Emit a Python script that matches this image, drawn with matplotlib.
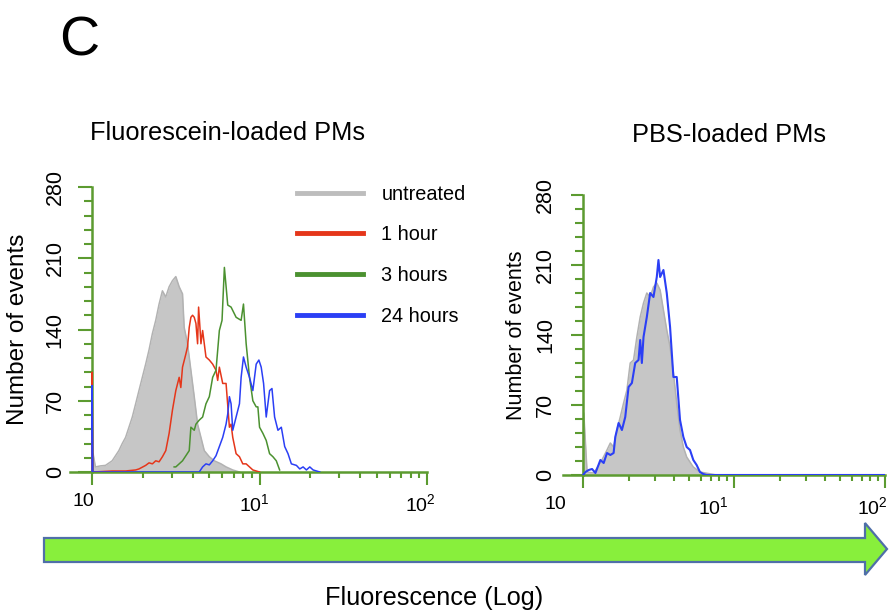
import matplotlib
matplotlib.use('Agg')
import matplotlib.pyplot as plt
import matplotlib.transforms as mtransforms
from matplotlib.lines import Line2D
from matplotlib.patches import Polygon

plt.rcParams['font.family'] = ['Liberation Sans', 'DejaVu Sans']
plt.rcParams['mathtext.fontset'] = 'custom'
plt.rcParams['mathtext.rm'] = 'Liberation Sans'
plt.rcParams['mathtext.it'] = 'Liberation Sans:italic'
plt.rcParams['mathtext.bf'] = 'Liberation Sans:bold'

# ---- data (fluorescence, number of events) ----
# left panel: Fluorescein-loaded PMs
untreated_L_x = [1.0, 1.014, 1.047, 1.122, 1.202, 1.318, 1.445, 1.514, 1.585, 1.660, 1.738,
                 1.820, 1.905, 1.995, 2.089, 2.188, 2.291, 2.399, 2.512, 2.630, 2.754, 2.884,
                 3.020, 3.162, 3.311, 3.467, 3.548, 3.715, 3.890, 4.074, 4.266, 4.467, 4.677,
                 5.012, 5.370, 5.888, 6.310, 6.918, 7.586]
untreated_L_y = [0, 18, 5, 6, 6.5, 11, 21, 28, 34, 44, 54,
                 67, 80, 93, 106, 120, 136, 149, 165, 178, 172, 182,
                 188, 192, 182, 175, 142, 126, 100, 74, 47, 34, 21,
                 15, 11, 8, 5, 2, 0]

h1_x = [1.0, 1.0, 1.01, 1.318, 1.585, 1.820, 1.905, 2.089, 2.188, 2.291, 2.399, 2.512,
        2.630, 2.754, 2.884, 3.020, 3.162, 3.311, 3.387, 3.467, 3.631, 3.715, 3.802,
        3.890, 3.981, 4.074, 4.169, 4.266, 4.325, 4.406, 4.467, 4.571, 4.677, 4.786,
        5.012, 5.248, 5.495, 5.623, 5.754, 6.026, 6.310, 6.607, 6.761, 6.918, 7.244,
        7.586, 7.943, 8.318, 8.710, 9.120, 10.0]
h1_y = [0, 98, 0, 1, 1, 2, 3, 6.5, 9, 8, 11, 10,
        15, 21, 38, 61, 80, 93, 83, 103, 116, 123, 142,
        152, 154, 152, 146, 126, 162, 142, 126, 139, 126, 113,
        110, 106, 100, 90, 103, 87, 87, 44, 47, 34, 18,
        15, 8, 8, 5, 2, 0]

h3_x = [3.090, 3.162, 3.311, 3.467, 3.631, 3.802, 3.890, 4.074, 4.169, 4.365, 4.571,
        4.786, 5.012, 5.248, 5.495, 5.754, 5.970, 6.166, 6.457, 6.761, 7.244, 7.762,
        8.017, 8.318, 8.710, 9.120, 9.550, 9.772, 10.0, 10.47, 10.96, 11.48, 12.02,
        12.59, 13.18]
h3_y = [5, 5, 8, 11, 16, 21, 44, 41, 47, 51, 54,
        67, 74, 93, 100, 139, 149, 201, 164, 162, 152, 149,
        165, 126, 93, 70, 64, 64, 44, 38, 31, 18, 15,
        11, 2]

h24_x = [1.0, 1.0, 1.01, 4.365, 4.571, 4.786, 5.012, 5.248, 5.495, 5.754, 6.026, 6.310,
         6.457, 6.607, 6.761, 6.918, 7.244, 7.586, 7.762, 8.017, 8.318, 8.710, 9.120,
         9.550, 9.908, 10.23, 10.57, 10.96, 11.48, 11.86, 12.30, 12.88, 13.49, 14.13,
         14.79, 15.49, 16.60, 17.38, 18.20, 19.05, 19.95, 20.89, 22.91]
h24_y = [0, 85, 0, 0, 5, 8, 7, 11, 16, 25, 34, 47,
         57, 74, 67, 41, 54, 67, 93, 113, 103, 93, 80,
         106, 110, 103, 87, 54, 80, 82, 54, 41, 44, 25,
         18, 8, 6.5, 3, 5, 2, 5, 2, 0]

# right panel: PBS-loaded PMs
untreated_R_x = [1.0, 1.01, 1.062, 1.175, 1.301, 1.439, 1.514, 1.592, 1.675, 1.762, 1.854,
                 1.950, 2.051, 2.158, 2.270, 2.388, 2.512, 2.642, 2.780, 2.924, 3.076,
                 3.236, 3.404, 3.581, 3.767, 3.963, 4.169, 4.385, 4.613, 4.853, 5.370,
                 5.943, 7.656]
untreated_R_y = [0, 62, 3, 2, 12, 25, 32, 28, 45, 58, 72,
                 85, 112, 115, 138, 158, 172, 182, 178, 188, 192,
                 185, 165, 145, 128, 102, 72, 45, 28, 18, 8,
                 3, 0]

h24_R_x = [1.0, 1.036, 1.089, 1.146, 1.206, 1.301, 1.368, 1.439, 1.514, 1.592, 1.633,
           1.718, 1.807, 1.901, 2.000, 2.104, 2.213, 2.328, 2.388, 2.449, 2.512, 2.642,
           2.780, 2.924, 3.076, 3.155, 3.236, 3.404, 3.581, 3.767, 3.963, 4.169, 4.385,
           4.613, 4.853, 5.105, 5.370, 5.649, 5.943, 6.252, 6.577, 100.0]
h24_R_y = [0, 3, 5, 6, 2, 15, 12, 22, 20, 22, 38,
           52, 45, 58, 88, 92, 112, 115, 135, 112, 138, 158,
           182, 178, 198, 215, 198, 205, 182, 148, 98, 98, 55,
           38, 28, 25, 15, 10, 3, 1, 0, 0]

series_labels = ['untreated', '1 hour', '3 hours', '24 hours']
series_colors = ['#bdbdbd', '#e5361a', '#4b9130', '#2b3ff5']
y_ticks = [0, 70, 140, 210, 280]
x_ticks = [1, 10, 100]
x_ticklabels = ['10', r'$\mathregular{10^{1}}$', r'$\mathregular{10^{2}}$']

AXC = '#5c9b30'
FILL = '#c6c6c6'
FILL_EDGE = '#b2b2b2'

fig = plt.figure(figsize=(8.9, 6.14), dpi=100)
W, H = 890, 614
axL = fig.add_axes([70.2 / W, 1 - 472 / H, 356.8 / W, 285 / H])
axR = fig.add_axes([563.4 / W, 1 - 475 / H, 321.6 / W, 280 / H])


def style(ax, major_len, minor_len, ypad, xshifts, ylabel_x, ylabel_size):
    ax.set_xscale('log')
    ax.set_xlim(0.74, 100)
    ax.set_ylim(0, 280)
    for s in ['top', 'right']:
        ax.spines[s].set_visible(False)
    ax.spines['left'].set_position(('data', 1))
    for s in ['left', 'bottom']:
        ax.spines[s].set_color(AXC)
        ax.spines[s].set_linewidth(1.8)
    ax.set_yticks(y_ticks)
    ax.set_yticks(list(range(0, 281, 14)), minor=True)
    ax.tick_params(axis='y', which='major', length=major_len, width=1.5, color=AXC,
                   labelsize=15.5, labelrotation=90, pad=ypad)
    ax.tick_params(axis='y', which='minor', length=minor_len, width=1.5, color=AXC)
    for lab in ax.get_yticklabels():
        lab.set_va('center')
    ax.set_xticks(x_ticks, x_ticklabels)
    ax.set_xticks([m * d for d in (1, 10) for m in range(2, 10)], minor=True)
    ax.xaxis.set_minor_formatter(plt.NullFormatter())
    ax.tick_params(axis='x', which='major', length=9, width=1.5, color=AXC,
                   labelsize=14, pad=6)
    ax.tick_params(axis='x', which='minor', length=4, width=1.5, color=AXC)
    for lab, dx in zip(ax.get_xticklabels(), xshifts):
        off = mtransforms.ScaledTranslation(dx / 100, 0, fig.dpi_scale_trans)
        lab.set_transform(lab.get_transform() + off)
    ax.set_ylabel('Number of events', fontsize=ylabel_size, va='center')
    ax.yaxis.set_label_coords(ylabel_x / W, 0.5,
                              transform=mtransforms.blended_transform_factory(fig.transFigure, ax.transAxes))


style(axL, 10, 6, 9, [-9, -5, -7], 18, 17.5)
style(axR, 8.6, 5.8, 11, [-28, -21, -13], 516, 15.5)

# left histograms
axL.fill_between(untreated_L_x, untreated_L_y, color=FILL, lw=0, zorder=2)
axL.plot(untreated_L_x, untreated_L_y, color=FILL_EDGE, lw=1.1, zorder=2)
axL.plot(h1_x, h1_y, color=series_colors[1], lw=1.1, zorder=3)
axL.plot(h3_x, h3_y, color=series_colors[2], lw=1.1, zorder=3)
axL.plot(h24_x, h24_y, color=series_colors[3], lw=1.1, zorder=3)

# right histograms
axR.fill_between(untreated_R_x, untreated_R_y, color=FILL, lw=0, zorder=2)
axR.plot(untreated_R_x, untreated_R_y, color=FILL_EDGE, lw=1.1, zorder=2)
axR.plot(h24_R_x, h24_R_y, color=series_colors[3], lw=1.5, zorder=3)

# legend
handles = [Line2D([], [], color=c, lw=3.5) for c in series_colors]
fig.legend(handles, series_labels, loc='upper left',
           bbox_to_anchor=(297 / W, 1 - 184.5 / H), frameon=False, fontsize=14.3,
           handlelength=3.3, handletextpad=0.95, labelspacing=1.1,
           borderpad=0, borderaxespad=0)

# titles and panel letter
fig.text(228 / W, 1 - 133 / H, 'Fluorescein-loaded PMs', fontsize=18.3, ha='center', va='center')
fig.text(729 / W, 1 - 135 / H, 'PBS-loaded PMs', fontsize=18.3, ha='center', va='center')
fig.text(59 / W, 1 - 42 / H, 'C', fontsize=40, ha='left', va='center')

# big arrow under both panels
arrow_px = [(44, 538), (865, 538), (865, 523), (887, 549), (865, 575), (865, 562), (44, 562)]
fig.patches.append(Polygon([(x / W, 1 - y / H) for x, y in arrow_px], closed=True,
                           transform=fig.transFigure, facecolor='#88ef3c',
                           edgecolor='#4f6fa8', lw=1.6))
fig.text(434 / W, 1 - 598 / H, 'Fluorescence (Log)', fontsize=18.2, ha='center', va='center')

fig.savefig('out.png', dpi=100)
